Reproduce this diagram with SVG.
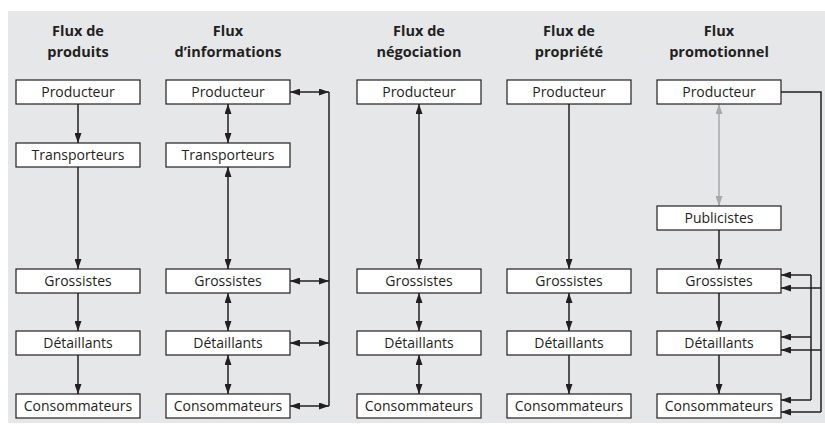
<svg xmlns="http://www.w3.org/2000/svg" width="825" height="425" viewBox="0 0 825 425">
<style>
.bx rect{fill:#fff;stroke:#231f20;stroke-width:1.2}
.bx text{font-family:"Open Sans","Liberation Sans",sans-serif;font-size:14px;fill:#231f20;text-anchor:middle}
.hd{font-family:"Open Sans","Liberation Sans",sans-serif;font-size:14.5px;font-weight:bold;fill:#231f20;text-anchor:middle}
#connectors path{fill:none;stroke:#231f20;stroke-width:1.5}
#connectors .one{marker-end:url(#ah)}
#connectors .two{marker-start:url(#ah);marker-end:url(#ah)}
#connectors .grey{stroke:#a7a9ac;marker-start:url(#ahg);marker-end:url(#ahg)}
</style>
<defs>
<marker id="ah" markerUnits="userSpaceOnUse" markerWidth="10" markerHeight="7" refX="10" refY="3.5" orient="auto-start-reverse"><path d="M0,0 L10,3.5 L0,7 z" fill="#231f20"/></marker>
<marker id="ahg" markerUnits="userSpaceOnUse" markerWidth="10" markerHeight="7" refX="10" refY="3.5" orient="auto-start-reverse"><path d="M0,0 L10,3.5 L0,7 z" fill="#a7a9ac"/></marker>
</defs>
<rect x="8" y="11" width="817" height="412" fill="#e6e7e8"/>
<g id="headers">
<text class="hd" x="78" y="36">Flux de</text><text class="hd" x="78" y="57">produits</text>
<text class="hd" x="228" y="36">Flux</text><text class="hd" x="228" y="57">d’informations</text>
<text class="hd" x="419" y="36">Flux de</text><text class="hd" x="419" y="57">négociation</text>
<text class="hd" x="569" y="36">Flux de</text><text class="hd" x="569" y="57">propriété</text>
<text class="hd" x="719" y="36">Flux</text><text class="hd" x="719" y="57">promotionnel</text>
</g>
<g id="connectors">
<path class="one" d="M78,104V143"/>
<path class="one" d="M78,167V269"/>
<path class="one" d="M78,293V331"/>
<path class="one" d="M78,355V394"/>
<path class="two" d="M228,104V143"/>
<path class="two" d="M228,167V269"/>
<path class="two" d="M228,293V331"/>
<path class="two" d="M228,355V394"/>
<path d="M329,92V406"/>
<path class="two" d="M290,92H329"/>
<path class="two" d="M290,281H329"/>
<path class="two" d="M290,343H329"/>
<path class="two" d="M290,406H329"/>
<path class="two" d="M419,104V269"/>
<path class="two" d="M419,293V331"/>
<path class="two" d="M419,355V394"/>
<path class="one" d="M569,104V269"/>
<path class="two" d="M569,293V331"/>
<path class="one" d="M569,355V394"/>
<path class="grey" d="M719,104V206"/>
<path class="one" d="M719,230V269"/>
<path class="one" d="M719,293V331"/>
<path class="one" d="M719,355V394"/>
<path d="M781,92H821V412"/>
<path class="one" d="M821,288H781"/>
<path class="one" d="M821,350H781"/>
<path class="one" d="M821,412H781"/>
<path d="M811,275V400"/>
<path class="one" d="M811,275H781"/>
<path class="one" d="M811,337H781"/>
<path class="one" d="M811,400H781"/>
</g>
<g id="c1-producteur" class="bx"><rect x="16" y="80" width="124" height="24"/><text x="78" y="97">Producteur</text></g>
<g id="c1-transporteurs" class="bx"><rect x="16" y="143" width="124" height="24"/><text x="78" y="160">Transporteurs</text></g>
<g id="c1-grossistes" class="bx"><rect x="16" y="269" width="124" height="24"/><text x="78" y="286">Grossistes</text></g>
<g id="c1-detaillants" class="bx"><rect x="16" y="331" width="124" height="24"/><text x="78" y="348">Détaillants</text></g>
<g id="c1-consommateurs" class="bx"><rect x="16" y="394" width="124" height="24"/><text x="78" y="411">Consommateurs</text></g>
<g id="c2-producteur" class="bx"><rect x="166" y="80" width="124" height="24"/><text x="228" y="97">Producteur</text></g>
<g id="c2-transporteurs" class="bx"><rect x="166" y="143" width="124" height="24"/><text x="228" y="160">Transporteurs</text></g>
<g id="c2-grossistes" class="bx"><rect x="166" y="269" width="124" height="24"/><text x="228" y="286">Grossistes</text></g>
<g id="c2-detaillants" class="bx"><rect x="166" y="331" width="124" height="24"/><text x="228" y="348">Détaillants</text></g>
<g id="c2-consommateurs" class="bx"><rect x="166" y="394" width="124" height="24"/><text x="228" y="411">Consommateurs</text></g>
<g id="c3-producteur" class="bx"><rect x="357" y="80" width="124" height="24"/><text x="419" y="97">Producteur</text></g>
<g id="c3-grossistes" class="bx"><rect x="357" y="269" width="124" height="24"/><text x="419" y="286">Grossistes</text></g>
<g id="c3-detaillants" class="bx"><rect x="357" y="331" width="124" height="24"/><text x="419" y="348">Détaillants</text></g>
<g id="c3-consommateurs" class="bx"><rect x="357" y="394" width="124" height="24"/><text x="419" y="411">Consommateurs</text></g>
<g id="c4-producteur" class="bx"><rect x="507" y="80" width="124" height="24"/><text x="569" y="97">Producteur</text></g>
<g id="c4-grossistes" class="bx"><rect x="507" y="269" width="124" height="24"/><text x="569" y="286">Grossistes</text></g>
<g id="c4-detaillants" class="bx"><rect x="507" y="331" width="124" height="24"/><text x="569" y="348">Détaillants</text></g>
<g id="c4-consommateurs" class="bx"><rect x="507" y="394" width="124" height="24"/><text x="569" y="411">Consommateurs</text></g>
<g id="c5-producteur" class="bx"><rect x="657" y="80" width="124" height="24"/><text x="719" y="97">Producteur</text></g>
<g id="c5-publicistes" class="bx"><rect x="657" y="206" width="124" height="24"/><text x="719" y="223">Publicistes</text></g>
<g id="c5-grossistes" class="bx"><rect x="657" y="269" width="124" height="24"/><text x="719" y="286">Grossistes</text></g>
<g id="c5-detaillants" class="bx"><rect x="657" y="331" width="124" height="24"/><text x="719" y="348">Détaillants</text></g>
<g id="c5-consommateurs" class="bx"><rect x="657" y="394" width="124" height="24"/><text x="719" y="411">Consommateurs</text></g>
</svg>
